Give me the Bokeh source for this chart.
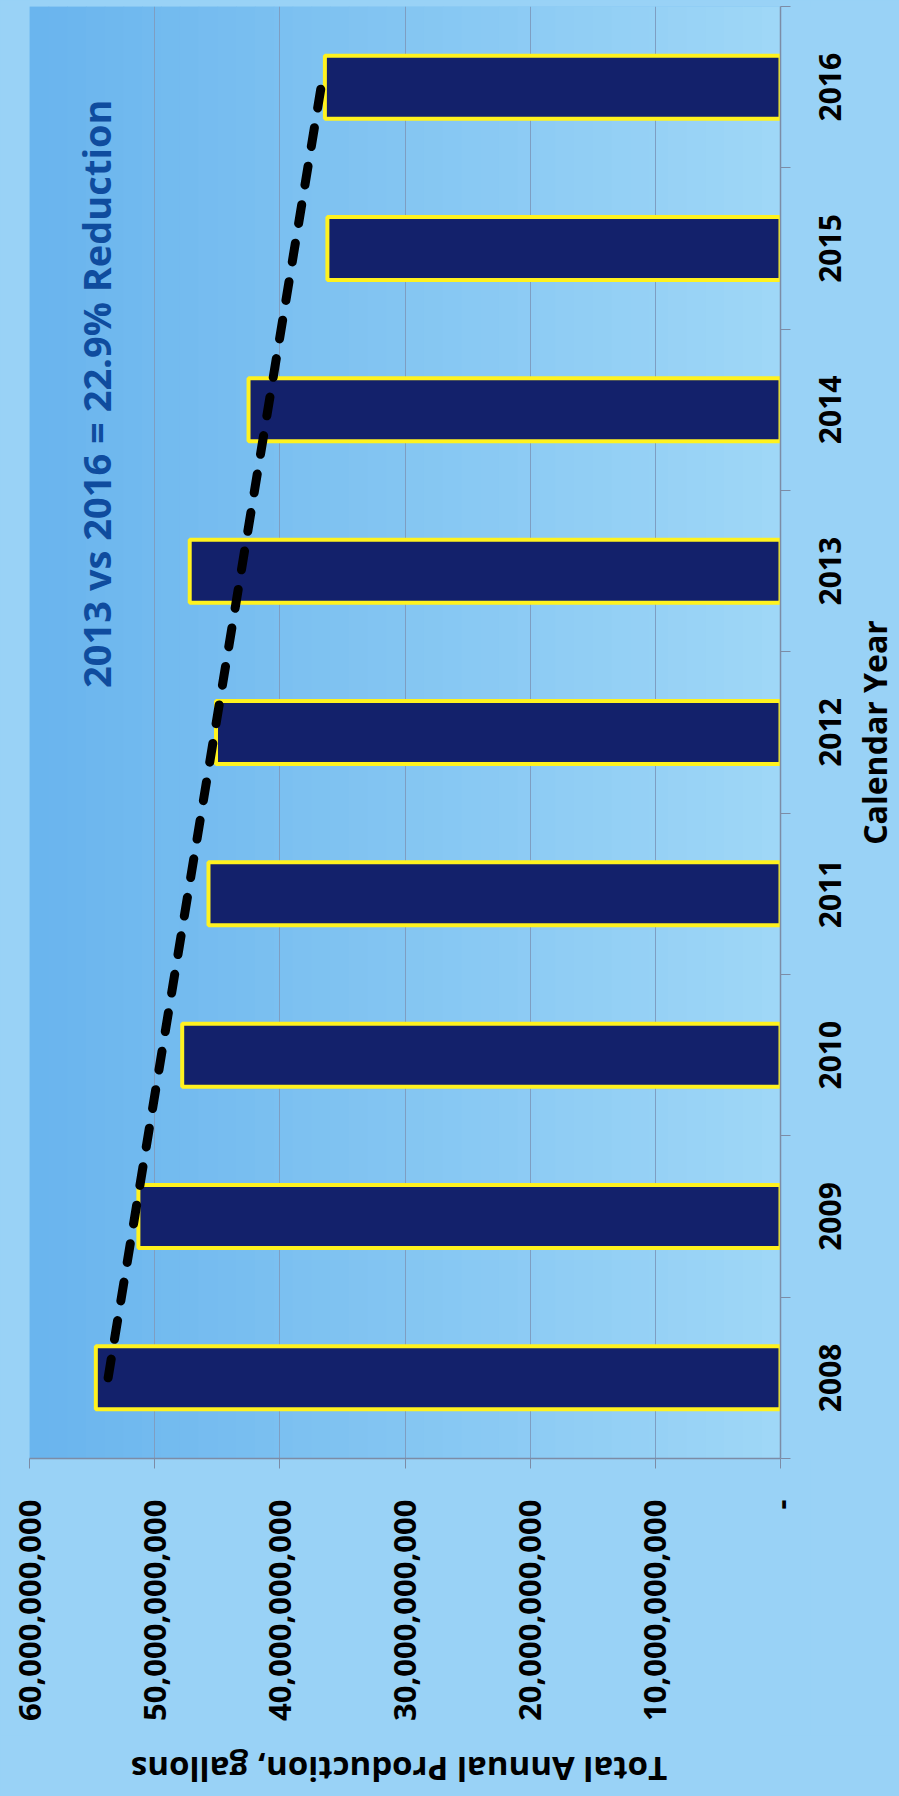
import math
import numpy as np
from bokeh.plotting import figure
from bokeh.layouts import column, row
from bokeh.models import Range1d, FixedTicker, Label, BoxAnnotation
from bokeh.embed import file_html
from bokeh.resources import INLINE

# ---------------- data ----------------
YEARS = [2008, 2009, 2010, 2011, 2012, 2013, 2014, 2015, 2016]
PRODUCTION = [54.7e9, 51.3e9, 47.8e9, 45.7e9, 45.1e9, 47.2e9, 42.5e9, 36.2e9, 36.4e9]
VALUE_TICKS = [0, 10e9, 20e9, 30e9, 40e9, 50e9, 60e9]
VALUE_TICK_LABELS = ["-", "10,000,000,000", "20,000,000,000", "30,000,000,000",
                     "40,000,000,000", "50,000,000,000", "60,000,000,000"]
YEAR_LABELS = [str(y) for y in YEARS]
TITLE = "2013 vs 2016 = 22.9% Reduction"
X_TITLE = "Calendar Year"
Y_TITLE = "Total Annual Production, gallons"

# ---------------- layout ----------------
TOTAL_W, TOTAL_H = 899, 1796
MAIN_W, MAIN_H = 810, 1735
BL, BR, BT = 29, 30, 6
BB = MAIN_H - 1458
RIGHT_W = TOTAL_W - MAIN_W
BOTTOM_H = TOTAL_H - MAIN_H
XMAX = VALUE_TICKS[-1]
FONT = "Open Sans"
BORDER = "#99D2F6"

y_range = Range1d(YEARS[0] - 0.5, YEARS[-1] + 0.5)
x_range = Range1d(XMAX, 0)

p = figure(width=MAIN_W, height=MAIN_H, output_backend="svg", toolbar_location=None,
           x_range=x_range, y_range=y_range,
           y_axis_location="right", x_axis_location="below",
           min_border_left=BL, min_border_right=BR, min_border_top=BT, min_border_bottom=BB)
p.background_fill_color = "#86C6F2"
p.border_fill_color = BORDER
p.outline_line_color = None

# background gradient (left darker, right lighter)
n_strips = 40
c0 = np.array([0x6A, 0xB5, 0xEE])
c1 = np.array([0x9F, 0xD7, 0xF7])
for i in range(n_strips):
    t = i / (n_strips - 1)
    c = (c0 * (1 - t) + c1 * t).astype(int)
    col = "#%02X%02X%02X" % tuple(c)
    a = XMAX - i * XMAX / n_strips
    b = a - XMAX / n_strips * 1.05
    p.add_layout(BoxAnnotation(left=a, right=b, fill_color=col, fill_alpha=1.0,
                               line_alpha=0, level="image"))

# grid
p.ygrid.visible = False
p.xgrid.grid_line_color = "#7E9EC2"
p.xgrid.grid_line_width = 1

# bars
p.hbar(y=YEARS, right=PRODUCTION, left=0, height=0.39,
       fill_color="#13216B", line_color="#FFF21F", line_width=4)

# linear trend line from the data
idx = np.arange(len(YEARS))
slope, intercept = np.polyfit(idx, np.array(PRODUCTION), 1)
trend = [intercept + slope * idx[0], intercept + slope * idx[-1]]
p.line(x=trend, y=[YEARS[0], YEARS[-1]], line_color="black", line_width=9,
       line_dash="19 20", line_cap="round")

# value axis (bottom)
xa = p.xaxis[0]
xa.ticker = FixedTicker(ticks=VALUE_TICKS)
xa.major_label_overrides = {v: lab for v, lab in zip(VALUE_TICKS, VALUE_TICK_LABELS)}
xa.major_label_orientation = math.pi / 2
xa.major_label_text_font = FONT
xa.major_label_text_font_style = "bold"
xa.major_label_text_font_size = "31px"
xa.major_label_text_color = "black"
xa.major_label_standoff = 31
xa.major_tick_out = 10
xa.major_tick_in = 0
xa.minor_tick_out = 0
xa.minor_tick_in = 0
xa.axis_line_color = "#7C8CA6"
xa.axis_line_width = 1.5
xa.major_tick_line_color = "#7C8CA6"

# category axis (right): line + ticks between categories
ya = p.yaxis[0]
ya.ticker = FixedTicker(ticks=[], minor_ticks=[y - 0.5 for y in YEARS] + [YEARS[-1] + 0.5])
ya.major_label_standoff = 0
ya.major_tick_out = 0
ya.major_tick_in = 0
ya.minor_tick_out = 10
ya.minor_tick_in = 0
ya.minor_tick_line_color = "#7C8CA6"
ya.axis_line_color = "#7C8CA6"
ya.axis_line_width = 1.5

# chart title (inside the plot area)
p.add_layout(Label(x=XMAX * 0.912, y=2014.1, text=TITLE, angle=math.pi / 2,
                   text_align="center", text_baseline="middle",
                   text_font=FONT, text_font_style="bold", text_font_size="38px",
                   text_color="#0F4C9E"))

# ---------------- right strip: year labels + axis title ----------------
pr = figure(width=RIGHT_W, height=MAIN_H, output_backend="svg", toolbar_location=None,
            x_range=Range1d(0, RIGHT_W), y_range=y_range,
            x_axis_type=None, y_axis_type=None,
            min_border_left=0, min_border_right=0, min_border_top=BT, min_border_bottom=BB)
pr.background_fill_color = BORDER
pr.border_fill_color = BORDER
pr.outline_line_color = None
for yr, lab in zip(YEARS, YEAR_LABELS):
    pr.add_layout(Label(x=19, y=yr, text=lab, angle=math.pi / 2,
                        text_align="center", text_baseline="middle",
                        text_font=FONT, text_font_style="bold", text_font_size="30px",
                        text_color="black"))
pr.add_layout(Label(x=64, y=(YEARS[0] + YEARS[-1]) / 2, text=X_TITLE, angle=math.pi / 2,
                    text_align="center", text_baseline="middle",
                    text_font=FONT, text_font_style="bold", text_font_size="32px",
                    text_color="black"))

# ---------------- bottom strip: value axis title ----------------
pb = figure(width=TOTAL_W, height=BOTTOM_H, output_backend="svg", toolbar_location=None,
            x_range=x_range, y_range=Range1d(0, BOTTOM_H),
            x_axis_type=None, y_axis_type=None,
            min_border_left=BL, min_border_right=TOTAL_W - MAIN_W + BR,
            min_border_top=0, min_border_bottom=0)
pb.background_fill_color = BORDER
pb.border_fill_color = BORDER
pb.outline_line_color = None
pb.add_layout(Label(x=XMAX / 2, y=BOTTOM_H - 34, text=Y_TITLE, angle=math.pi,
                    x_offset=-6, text_align="center", text_baseline="middle",
                    text_font=FONT, text_font_style="bold", text_font_size="33px",
                    text_color="black"))

top_row = row(p, pr, spacing=0, styles={"background-color": BORDER})
layout = column(top_row, pb, spacing=0, styles={"background-color": BORDER})
open("out.html", "w").write(file_html(layout, INLINE))
